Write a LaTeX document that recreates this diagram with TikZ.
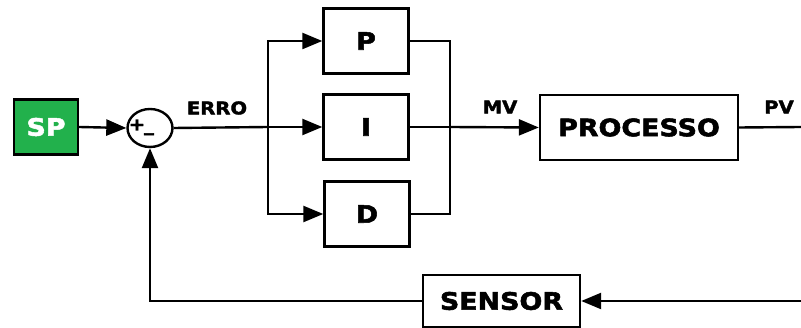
\documentclass[tikz,border=0pt]{standalone}
\usepackage{fontspec}
\newfontfamily\blkfont{DejaVu Sans}[FakeStretch=1.12, FakeBold=2.2]
\usetikzlibrary{arrows.meta,shapes.geometric}
\definecolor{spgreen}{RGB}{34,177,76}
\begin{document}
\begin{tikzpicture}[
  x=1pt, y=-1pt,
  blk/.style={rectangle, draw=black, line width=2.4pt, fill=white,
              minimum width=85pt, minimum height=65pt, inner sep=0pt,
              font=\blkfont\bfseries\fontsize{24}{26}\selectfont},
  sig/.style={font=\blkfont\bfseries\fontsize{17.5}{19}\selectfont},
  lin/.style={line width=2.4pt, black},
  arr/.style={lin, -{Triangle[length=20pt, width=16pt]}},
]
\useasboundingbox (0,0) rectangle (801,328);

% Blocks
\node[blk, fill=spgreen, text=white, minimum width=64pt, minimum height=55pt]
  (SP) at (46,127) {SP};
\node[ellipse, draw=black, line width=2.4pt, minimum width=45pt,
      minimum height=38pt, inner sep=0pt] (SUM) at (150,128) {};
\node[sig] (PLS) at (137,125) {+};
\node[sig] (MNS) at (149,133) {\_};
\node[blk]  (P)    at (366,41)  {P};
\node[blk]  (I)    at (366,127) {I};
\node[blk]  (D)    at (367,214) {D};
\node[blk, minimum width=198pt] (PROC) at (639,127.5) {PROCESSO};
\node[blk, minimum width=157pt, minimum height=52pt] (SEN) at (501.5,301) {SENSOR};

% Signal labels
\node[sig] (ERRO) at (217,108) {ERRO};
\node[sig] (MV)   at (500,107) {MV};
\node[sig] (PV)   at (779,107) {PV};

% Branch points and open ends
\coordinate (split) at (268,127);
\coordinate (join)  at (450,127);
\coordinate (out)   at (801,127);
\coordinate (in)    at (801,301);

% Forward path
\draw[arr] (SP.east) -- (SUM.west);
\draw[lin] (SUM.east) -- (split);
\draw[arr] (split) |- (P.west);
\draw[arr] (split) -- (I.west);
\draw[arr] (split) |- (D.west);
\draw[lin] (P.east) -| (join);
\draw[lin] (I.east) -- (join);
\draw[lin] (D.east) -| (join);
\draw[arr] (join) -- (PROC.west);
\draw[lin] (PROC.east) -- (out);

% Feedback path
\draw[arr] (in) -- (SEN.east);
\draw[arr] (SEN.west) -| (SUM.south);

\end{tikzpicture}
\end{document}
